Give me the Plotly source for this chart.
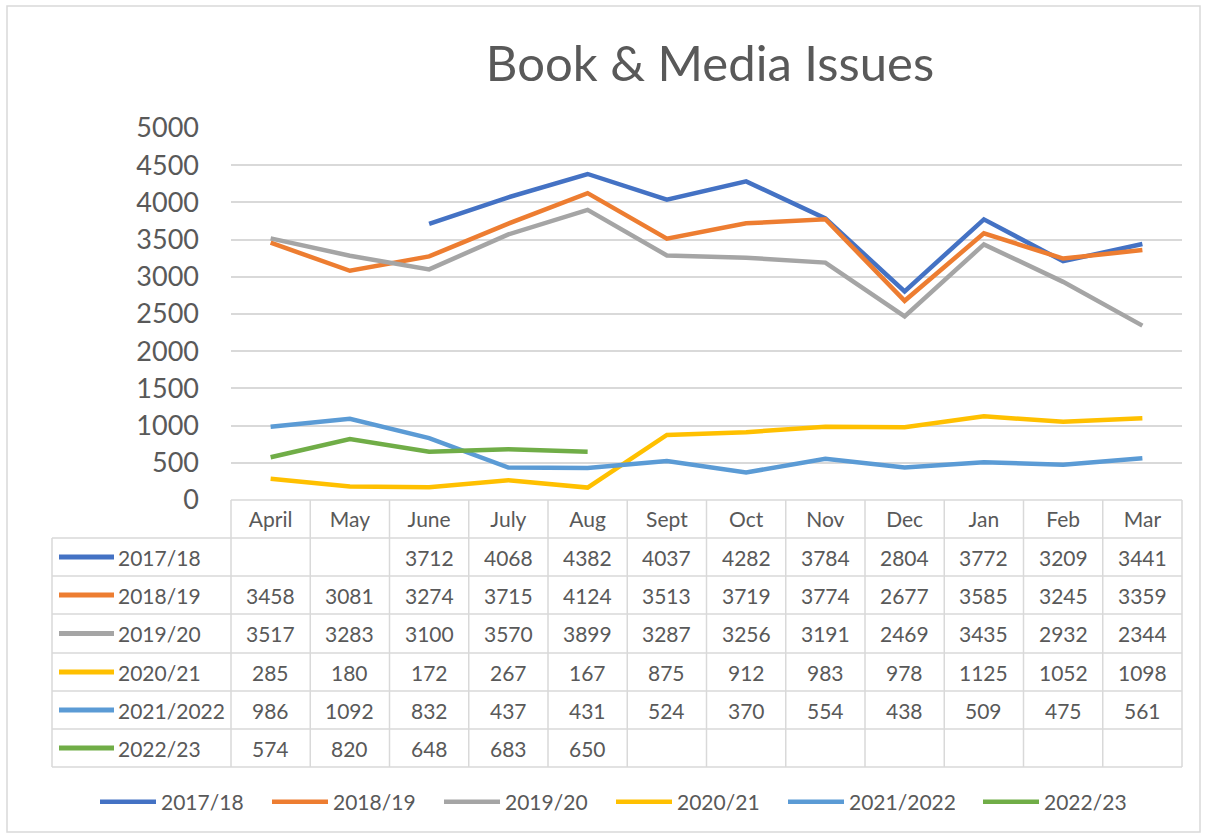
import plotly.graph_objects as go

W, H = 1205, 837

months = ["April", "May", "June", "July", "Aug", "Sept", "Oct", "Nov", "Dec", "Jan", "Feb", "Mar"]
series_names = ["2017/18", "2018/19", "2019/20", "2020/21", "2021/2022", "2022/23"]

s2017 = [None, None, 3712, 4068, 4382, 4037, 4282, 3784, 2804, 3772, 3209, 3441]
s2018 = [3458, 3081, 3274, 3715, 4124, 3513, 3719, 3774, 2677, 3585, 3245, 3359]
s2019 = [3517, 3283, 3100, 3570, 3899, 3287, 3256, 3191, 2469, 3435, 2932, 2344]
s2020 = [285, 180, 172, 267, 167, 875, 912, 983, 978, 1125, 1052, 1098]
s2021 = [986, 1092, 832, 437, 431, 524, 370, 554, 438, 509, 475, 561]
s2022 = [574, 820, 648, 683, 650, None, None, None, None, None, None, None]

series_values = [s2017, s2018, s2019, s2020, s2021, s2022]
colors = ["#4472C4", "#ED7D31", "#A5A5A5", "#FFC000", "#5B9BD5", "#70AD47"]

FONT = "Lato"
TXT = "#595959"
GRID = "#D9D9D9"

# pixel geometry helpers
def px(x):
    return x / W

def py(y):
    return 1 - y / H

plot_left, plot_right = 231, 1182
plot_top, plot_bottom = 128, 500
tbl_left = 52
row_edges = [500, 538, 576, 614, 653, 691, 729, 767]

fig = go.Figure()
for i, (name, vals, col) in enumerate(zip(series_names, series_values, colors)):
    fig.add_trace(go.Scatter(
        x=months, y=vals, name=name, mode="lines",
        line=dict(color=col, width=4.5),
        connectgaps=False,
        legend="legend2" if i == len(series_names) - 1 else "legend",
    ))

shapes = []
annotations = []
line_style = dict(color=GRID, width=1.5)

# outer chart border
shapes.append(dict(type="rect", xref="paper", yref="paper",
                   x0=px(7), x1=px(1200), y0=py(832), y1=py(6),
                   line=dict(color=GRID, width=1.5), layer="below"))

# table horizontal lines
shapes.append(dict(type="line", xref="paper", yref="paper",
                   x0=px(plot_left), x1=px(plot_right), y0=py(500), y1=py(500), line=line_style))
for ry in row_edges[1:]:
    shapes.append(dict(type="line", xref="paper", yref="paper",
                       x0=px(tbl_left), x1=px(plot_right), y0=py(ry), y1=py(ry), line=line_style))
# table vertical lines
shapes.append(dict(type="line", xref="paper", yref="paper",
                   x0=px(tbl_left), x1=px(tbl_left), y0=py(538), y1=py(767), line=line_style))
n = len(months)
cw = (plot_right - plot_left) / n
for i in range(n + 1):
    xx = plot_left + i * cw
    shapes.append(dict(type="line", xref="paper", yref="paper",
                       x0=px(xx), x1=px(xx), y0=py(500), y1=py(767), line=line_style))

# row labels with legend keys and values
for r, (name, vals, col) in enumerate(zip(series_names, series_values, colors)):
    yc = (row_edges[r + 1] + row_edges[r + 2]) / 2
    shapes.append(dict(type="line", xref="paper", yref="paper",
                       x0=px(59), x1=px(114), y0=py(yc), y1=py(yc),
                       line=dict(color=col, width=5)))
    annotations.append(dict(xref="paper", yref="paper", x=px(116), y=py(yc),
                            text=name, showarrow=False, xanchor="left", yanchor="middle",
                            font=dict(family=FONT, size=21, color=TXT)))
    for m, v in zip(months, vals):
        if v is None:
            continue
        annotations.append(dict(xref="x", yref="paper", x=m, y=py(yc),
                                text=str(v), showarrow=False, xanchor="center", yanchor="middle",
                                font=dict(family=FONT, size=21, color=TXT)))

legend_common = dict(orientation="h", xanchor="left", y=py(802), yanchor="middle",
                     font=dict(family=FONT, size=21, color=TXT), itemwidth=56,
                     entrywidth=101, entrywidthmode="pixels",
                     bgcolor="rgba(0,0,0,0)")

fig.update_layout(
    width=W, height=H,
    margin=dict(l=0, r=0, t=0, b=0),
    paper_bgcolor="white", plot_bgcolor="white",
    font=dict(family=FONT, color=TXT),
    title=dict(text="Book & Media Issues", x=px(710), y=py(64),
               xanchor="center", yanchor="middle",
               font=dict(family=FONT, size=49, color=TXT)),
    xaxis=dict(domain=[px(plot_left), px(plot_right)], type="category",
               categoryorder="array", categoryarray=months,
               range=[-0.5, n - 0.5], showgrid=False, zeroline=False,
               showline=False, ticks="", automargin=False,
               tickfont=dict(family=FONT, size=21, color=TXT),
               ticklabelstandoff=5),
    yaxis=dict(domain=[py(plot_bottom), py(plot_top)], range=[0, 5000],
               tickvals=list(range(0, 5001, 500)), showgrid=True,
               gridcolor=GRID, gridwidth=1.5, zeroline=False, showline=False,
               ticks="", automargin=False, ticklabelstandoff=31,
               tickfont=dict(family=FONT, size=27, color=TXT)),
    legend=dict(x=px(95), **legend_common),
    legend2=dict(x=px(978), **legend_common),
    shapes=shapes,
    annotations=annotations,
    showlegend=True,
)

fig.write_html("out.html", config={"displayModeBar": False},
               post_script="document.body.style.margin='0';")
